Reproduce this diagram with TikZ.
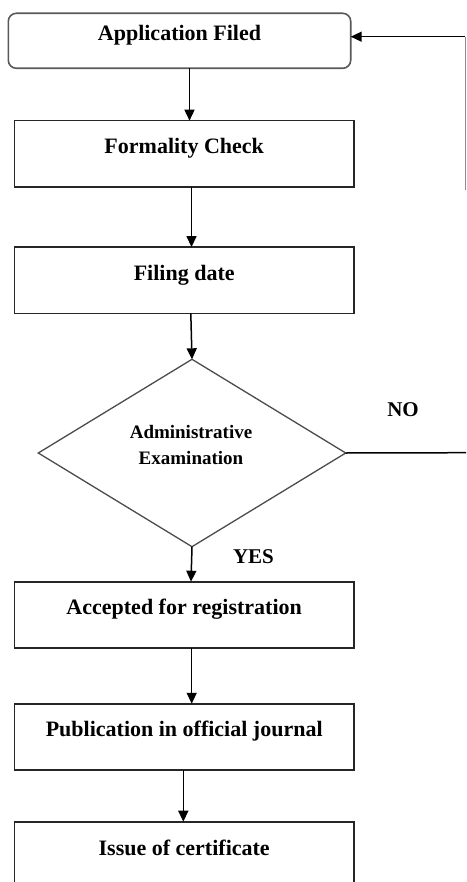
\documentclass[tikz,border=0pt]{standalone}
\usepackage{fontspec}
\setmainfont{Liberation Serif}
\usetikzlibrary{shapes.geometric,arrows.meta}
\begin{document}
\begin{tikzpicture}[x=1pt,y=-1pt,
  box/.style={draw=black!85, line width=1.6pt, rectangle, inner sep=0pt, outer sep=0pt,
    minimum width=339.7pt, text height=0pt, text depth=0pt,
    font=\bfseries\fontsize{22}{26}\selectfont},
  dlbl/.style={anchor=base, inner sep=0pt, font=\bfseries\fontsize{19}{24}\selectfont},
  yn/.style={anchor=base, inner sep=0pt, font=\bfseries\fontsize{21}{24}\selectfont},
  arr/.style={-{Triangle[length=11pt,width=10pt]}, line width=1.5pt, draw=black},
  plain/.style={line width=1.5pt, draw=black},
]
\useasboundingbox (0,0) rectangle (466,882);
\clip (0,0) rectangle (466,882);
\fill[white] (0,0) rectangle (466,882);

% boxes
\node[box, draw=black!65, rounded corners=8pt, minimum width=342.4pt, minimum height=55pt] (app) at (179.5,40.8) {Application Filed};
\node[box, minimum height=66.6pt] (fc) at (184.2,154) {Formality Check};
\node[box, minimum height=66.3pt] (fd) at (184.2,280.2) {Filing date};
\node[diamond, draw=black!70, line width=1.3pt, inner sep=0pt, outer sep=0pt,
      minimum width=307.4pt, minimum height=187.4pt] (dia) at (192,453) {};
\node[dlbl] (dt1) at (191,438) {Administrative};
\node[dlbl] (dt2) at (191,464) {Examination};
\node[box, minimum height=66pt] (acc) at (184.2,614.7) {Accepted for registration};
\node[box, minimum height=66.3pt] (pub) at (184.2,736.9) {Publication in official journal};
\node[box, minimum height=66.6pt] (iss) at (184.2,855) {Issue of certificate};

% labels
\node[yn] (no) at (403,416) {NO};
\node[yn] (yes) at (253.5,563) {YES};

% arrow columns
\coordinate (c1) at (189.5,0);
\coordinate (c2) at (191.5,0);
\coordinate (c3) at (190.8,0);
\coordinate (c4) at (191,0);
\coordinate (c5) at (191.7,0);
\coordinate (c6) at (183.3,0);

\draw[arr] (app.south -| c1) -- (fc.north -| c1);
\draw[arr] (fc.south -| c2) -- (fd.north -| c2);
\draw[arr] (fd.south -| c3) -- (dia.north);
\draw[arr] (dia.south) -- (acc.north -| c4);
\draw[arr] (acc.south -| c5) -- (pub.north -| c5);
\draw[arr] (pub.south -| c6) -- (iss.north -| c6);

% NO branch and feedback
\coordinate (noE) at (466,452.7);
\draw[plain] (dia.east) -- (noE);
\coordinate (fbB) at (465.3,190);
\coordinate (fbT) at (465.3,36.7);
\draw[line width=1.2pt, draw=black!45] (fbB) -- (fbT);
\draw[arr] (fbT) -- (app.east |- fbT);
\end{tikzpicture}
\end{document}
